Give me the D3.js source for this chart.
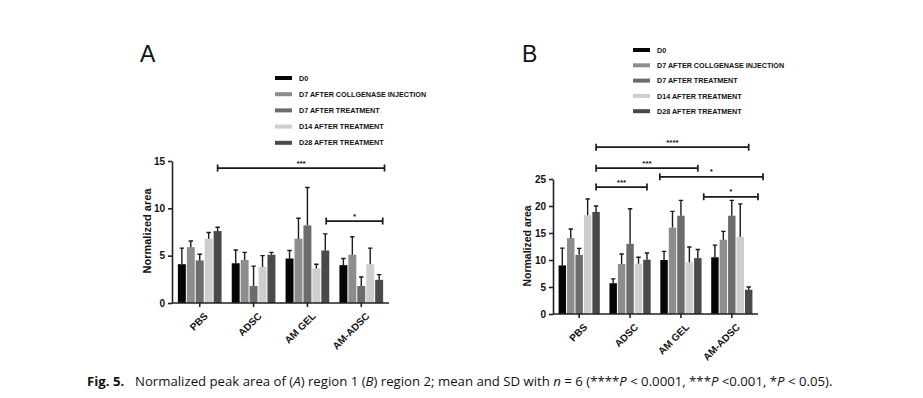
<!DOCTYPE html>
<html>
<head>
<meta charset="utf-8">
<script src="https://cdn.jsdelivr.net/npm/d3@7"></script>
<style>
  body { margin: 0; background: #fff; }
  svg { display: block; font-family: "Liberation Sans", Arial, sans-serif; }
  .axis path, .axis line { stroke: #222; stroke-width: 1.6; }
  .axis text { font-weight: bold; font-size: 10px; fill: #111; }
</style>
</head>
<body>
<svg id="fig" width="923" height="398"></svg>
<script>
// Normalized peak area, region 1 (A) and region 2 (B)

const groups = ['PBS', 'ADSC', 'AM GEL', 'AM-ADSC'];
const seriesNames = ['D0', 'D7 AFTER COLLGENASE INJECTION', 'D7 AFTER TREATMENT', 'D14 AFTER TREATMENT', 'D28 AFTER TREATMENT'];
const seriesColors = ['#050505', '#8d8d8d', '#6c6c6c', '#cecece', '#4a4a4a'];

// panel A means / SD, one array per series (order follows groups)
const aD0 = [4.1, 4.2, 4.7, 4.0];
const aD0Sd = [1.7, 1.4, 0.85, 0.7];
const aD7c = [5.9, 4.55, 6.8, 5.1];
const aD7cSd = [0.65, 0.8, 2.15, 1.9];
const aD7t = [4.5, 1.8, 8.2, 1.8];
const aD7tSd = [0.65, 2.1, 4.0, 0.95];
const aD14 = [6.8, 3.8, 3.65, 4.1];
const aD14Sd = [0.65, 1.2, 0.45, 1.7];
const aD28 = [7.6, 5.1, 5.55, 2.45];
const aD28Sd = [0.4, 0.25, 1.75, 0.55];
const aTicks = [0, 5, 10, 15];

// panel B
const bD0 = [9.0, 5.7, 10.0, 10.5];
const bD0Sd = [3.2, 0.8, 1.6, 2.25];
const bD7c = [14.05, 9.25, 16.0, 13.75];
const bD7cSd = [1.7, 1.85, 3.0, 1.55];
const bD7t = [10.95, 13.0, 18.2, 18.2];
const bD7tSd = [1.2, 6.5, 2.85, 2.85];
const bD14 = [18.3, 9.3, 9.6, 14.3];
const bD14Sd = [3.0, 1.2, 2.8, 6.1];
const bD28 = [18.9, 10.05, 10.35, 4.5];
const bD28Sd = [1.1, 1.25, 1.6, 0.5];
const bTicks = [0, 5, 10, 15, 20, 25];

// significance brackets: [group, bar position] -> [group, bar position], level, stars
const aBrackets = [
  { from: [0, 4.5], to: [3, 5.1], level: 14.25, label: '***' },
  { from: [2, 4.6], to: [3, 4.9], level: 8.65, label: '*' }
];
const bBrackets = [
  { from: [0, 4.5], to: [3, 4.5], level: 30.9, label: '****' },
  { from: [0, 4.5], to: [2, 4.5], level: 27.0, label: '***' },
  { from: [2, 0.0], to: [3, 6.2], level: 25.4, label: '*' },
  { from: [0, 4.5], to: [1, 4.5], level: 23.5, label: '***' },
  { from: [2, 5.2], to: [3, 5.6], level: 21.7, label: '*' }
];

const svg = d3.select('#fig');

function drawPanel(cfg) {
  const g = svg.append('g');

  const x = d3.scaleBand()
    .domain(groups)
    .range([cfg.left, cfg.right])
    .paddingInner(0.17)
    .paddingOuter(0.1);

  const barStep = x.bandwidth() / seriesNames.length;

  const y = d3.scaleLinear()
    .domain([0, cfg.max])
    .range([cfg.bottom, cfg.top]);

  // position of a bar slot inside a group, in bar units from the group start
  const slotX = (gi, pos) => x(groups[gi]) + pos * barStep;

  cfg.series.forEach((vals, si) => {
    const sd = cfg.sds[si];
    const bars = g.append('g');
    bars.selectAll('rect')
      .data(vals)
      .enter().append('rect')
      .attr('x', (d, i) => slotX(i, si) + 0.5)
      .attr('y', d => y(d))
      .attr('width', barStep - 1)
      .attr('height', d => y(0) - y(d))
      .attr('fill', seriesColors[si]);

    // upper error bar with cap
    bars.selectAll('path.err')
      .data(vals)
      .enter().append('path')
      .attr('class', 'err')
      .attr('d', (d, i) => {
        const cx = slotX(i, si + 0.5);
        const top = y(d + sd[i]);
        return `M${cx},${y(d)}V${top}M${cx - 2.2},${top}H${cx + 2.2}`;
      })
      .attr('fill', 'none')
      .attr('stroke', '#1a1a1a')
      .attr('stroke-width', 1.4);
  });

  // axes
  g.append('g')
    .attr('class', 'axis')
    .attr('transform', `translate(${cfg.left},0)`)
    .call(d3.axisLeft(y).tickValues(cfg.ticks).tickSize(4).tickSizeOuter(0));

  const xAxis = g.append('g')
    .attr('class', 'axis')
    .attr('transform', `translate(0,${cfg.bottom})`)
    .call(d3.axisBottom(x).tickSize(4).tickSizeOuter(0));
  xAxis.select('.domain').attr('d', `M${cfg.left},0H${cfg.right}`);
  xAxis.selectAll('text')
    .style('text-anchor', 'end')
    .attr('x', 0)
    .attr('y', 0)
    .attr('dx', -3.5)
    .attr('dy', 16)
    .attr('transform', 'rotate(-45)');

  // axis title
  g.append('text')
    .attr('transform', `translate(${cfg.titleX},${cfg.titleY}) rotate(-90)`)
    .attr('text-anchor', 'middle')
    .attr('font-weight', 'bold')
    .attr('font-size', cfg.titleSize)
    .attr('fill', '#111')
    .text('Normalized area');

  // brackets
  cfg.brackets.forEach(b => {
    const x1 = slotX(b.from[0], b.from[1]);
    const x2 = slotX(b.to[0], b.to[1]);
    const yy = y(b.level);
    g.append('path')
      .attr('d', `M${x1},${yy - 3.5}V${yy + 3.5}M${x1},${yy}H${x2}M${x2},${yy - 3.5}V${yy + 3.5}`)
      .attr('fill', 'none')
      .attr('stroke', '#1a1a1a')
      .attr('stroke-width', 1.7);
    g.append('text')
      .attr('x', (x1 + x2) / 2)
      .attr('y', yy - 2.5)
      .attr('text-anchor', 'middle')
      .attr('font-size', 8)
      .attr('font-weight', 'bold')
      .attr('fill', '#111')
      .text(b.label);
  });

  // legend
  const leg = g.append('g');
  seriesNames.forEach((name, i) => {
    const ly = cfg.legY + i * cfg.legStep;
    leg.append('rect')
      .attr('x', cfg.legX)
      .attr('y', ly - 2)
      .attr('width', 17)
      .attr('height', 4)
      .attr('fill', seriesColors[i]);
    leg.append('text')
      .attr('x', cfg.legX + 24)
      .attr('y', ly + 2.6)
      .attr('font-size', 7.2)
      .attr('font-weight', 'bold')
      .attr('fill', '#111')
      .text(name);
  });

  // panel letter
  g.append('text')
    .attr('x', cfg.letterX)
    .attr('y', 62)
    .attr('font-size', 23)
    .attr('fill', '#111')
    .text(cfg.letter);
}

drawPanel({
  letter: 'A', letterX: 140,
  left: 172, right: 389, top: 161, bottom: 303, max: 15, ticks: aTicks,
  series: [aD0, aD7c, aD7t, aD14, aD28],
  sds: [aD0Sd, aD7cSd, aD7tSd, aD14Sd, aD28Sd],
  brackets: aBrackets,
  titleX: 151, titleY: 231, titleSize: 11,
  legX: 275, legY: 78, legStep: 16.2
});

drawPanel({
  letter: 'B', letterX: 522,
  left: 553, right: 758, top: 179, bottom: 314, max: 25, ticks: bTicks,
  series: [bD0, bD7c, bD7t, bD14, bD28],
  sds: [bD0Sd, bD7cSd, bD7tSd, bD14Sd, bD28Sd],
  brackets: bBrackets,
  titleX: 531, titleY: 246, titleSize: 10.5,
  legX: 633, legY: 50, legStep: 15.3
});

// caption
const cap = svg.append('text')
  .attr('x', 87)
  .attr('y', 386)
  .attr('font-size', 13.2)
  .attr('fill', '#111')
  .style('font-family', '"Open Sans", "Liberation Sans", sans-serif');
cap.append('tspan').attr('font-weight', 'bold').text('Fig. 5.');
cap.append('tspan').attr('x', 135).text('Normalized peak area of (');
cap.append('tspan').attr('font-style', 'italic').text('A');
cap.append('tspan').text(') region 1 (');
cap.append('tspan').attr('font-style', 'italic').text('B');
cap.append('tspan').text(') region 2; mean and SD with ');
cap.append('tspan').attr('font-style', 'italic').text('n');
cap.append('tspan').text(' = 6 (****');
cap.append('tspan').attr('font-style', 'italic').text('P');
cap.append('tspan').text(' < 0.0001, ***');
cap.append('tspan').attr('font-style', 'italic').text('P');
cap.append('tspan').text(' <0.001, *');
cap.append('tspan').attr('font-style', 'italic').text('P');
cap.append('tspan').text(' < 0.05).');
</script>
</body>
</html>
